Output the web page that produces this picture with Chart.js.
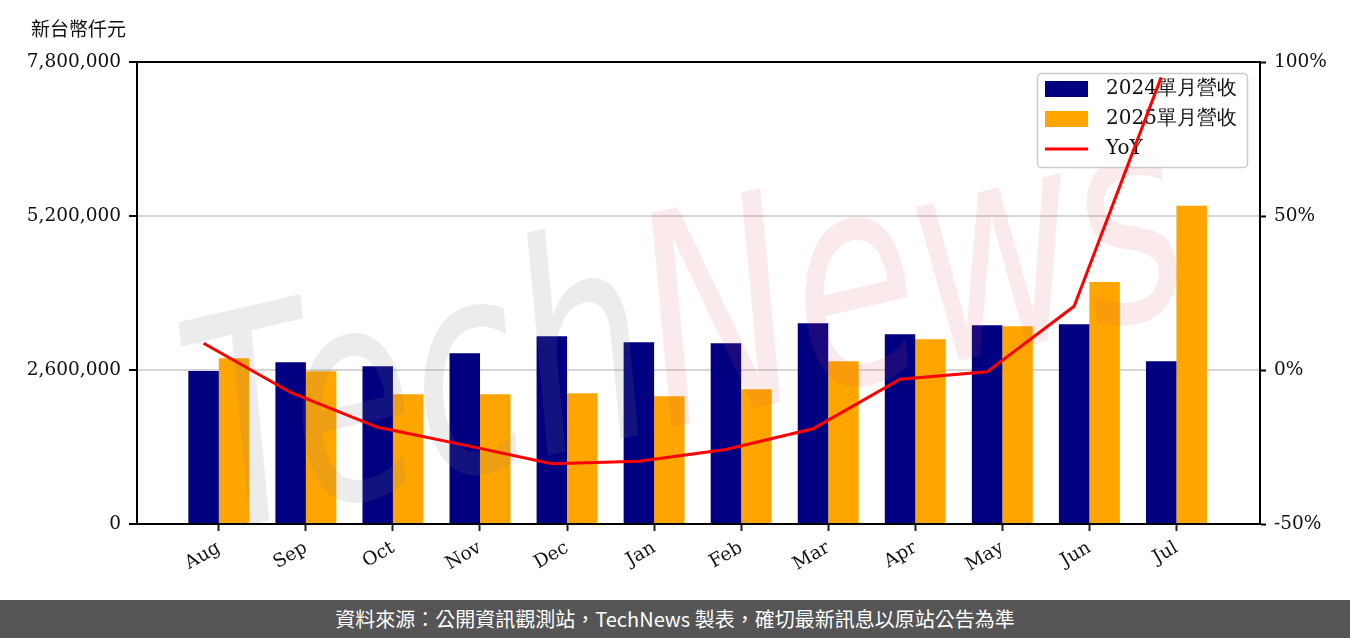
<!DOCTYPE html>
<html>
<head>
<meta charset="utf-8">
<script src="https://cdn.jsdelivr.net/npm/chart.js@4.4.1/dist/chart.umd.min.js"></script>
<style>
html, body { margin: 0; padding: 0; background: #fff; }
#wrap { position: relative; width: 1350px; height: 638px; overflow: hidden; }
#chart { position: absolute; left: 0; top: 0; }
#unit { position: absolute; left: 31px; top: 14px; font: 19px "Noto Sans CJK TC"; color: #111; }
#footer { position: absolute; left: 0; top: 600px; width: 1350px; height: 38px; background: #555; color: #fff;
  font: 20px "Noto Sans CJK TC"; text-align: center; line-height: 38px; }
</style>
</head>
<body>
<div id="wrap">
  <canvas id="chart" width="1350" height="600"></canvas>
  <div id="unit">新台幣仟元</div>
  <div id="footer">資料來源：公開資訊觀測站，TechNews 製表，確切最新訊息以原站公告為準</div>
</div>
<script>
const months = ['Aug', 'Sep', 'Oct', 'Nov', 'Dec', 'Jan', 'Feb', 'Mar', 'Apr', 'May', 'Jun', 'Jul'];
const revenue2024 = [2583000, 2730000, 2663000, 2883000, 3170000, 3069000, 3052000, 3390000, 3204000, 3357000, 3374000, 2747000];
const revenue2025 = [2798000, 2578000, 2189000, 2189000, 2206000, 2155000, 2273000, 2747000, 3120000, 3340000, 4085000, 5371000];
const yoyPercent = [8.7, -7.3, -18.6, -24.4, -30.4, -29.6, -25.8, -19.1, -3.0, -0.6, 20.7, 95.0];
const revenueTicks = [0, 2600000, 5200000, 7800000];
const yoyTicks = [-50, 0, 50, 100];

// the YoY line sits on the centre of the 2024 bar (half of a 0.35 bar width)
const yoyShift = 0.175;
const serif = '"DejaVu Serif"';

const frame = {
  id: 'frame',
  beforeDatasetDraw(chart, args) {
    if (args.index !== 2) return;
    const ctx = chart.ctx;
    const a = chart.chartArea;

    // watermark, over the bars but under the line
    ctx.save();
    ctx.beginPath();
    ctx.rect(a.left - 10, a.top, a.right - a.left + 10, a.bottom - a.top);
    ctx.clip();
    ctx.translate(690, 345);
    ctx.rotate(-13 * Math.PI / 180);
    ctx.scale(0.9, 1.3);
    ctx.font = 'italic 225px "DejaVu Sans"';
    ctx.textBaseline = 'middle';
    const w1 = ctx.measureText('Tech').width;
    const w2 = ctx.measureText('News').width;
    const x0 = -(w1 + w2) / 2;
    ctx.fillStyle = 'rgba(128,128,128,0.15)';
    ctx.fillText('Tech', x0, 0);
    ctx.fillStyle = 'rgba(215,80,90,0.12)';
    ctx.fillText('News', x0 + w1, 0);
    ctx.restore();

    // legend box
    ctx.save();
    ctx.fillStyle = 'rgba(255,255,255,0.8)';
    ctx.strokeStyle = '#cccccc';
    ctx.lineWidth = 1.5;
    ctx.beginPath();
    ctx.roundRect(1037.5, 73.5, 210, 94, 4);
    ctx.fill();
    ctx.stroke();
    const entries = [
      { label: '2024單月營收', color: '#000080', kind: 'box' },
      { label: '2025單月營收', color: '#FFA500', kind: 'box' },
      { label: 'YoY', color: '#FF0000', kind: 'line' }
    ];
    ctx.font = '20px ' + serif;
    ctx.textBaseline = 'middle';
    entries.forEach((e, i) => {
      const cy = 89 + i * 30;
      if (e.kind === 'box') {
        ctx.fillStyle = e.color;
        ctx.fillRect(1045, cy - 8, 43, 16);
      } else {
        ctx.strokeStyle = e.color;
        ctx.lineWidth = 3;
        ctx.beginPath();
        ctx.moveTo(1045, cy);
        ctx.lineTo(1088, cy);
        ctx.stroke();
      }
      ctx.fillStyle = '#111';
      ctx.fillText(e.label, 1106, cy);
    });
    ctx.restore();
  },
  afterDraw(chart) {
    const ctx = chart.ctx;
    const a = chart.chartArea;
    ctx.save();
    ctx.strokeStyle = '#000';
    ctx.lineWidth = 2;
    ctx.strokeRect(a.left, a.top, a.right - a.left, a.bottom - a.top);
    ctx.restore();
  }
};

new Chart(document.getElementById('chart'), {
  data: {
    datasets: [
      {
        type: 'bar',
        label: '2024單月營收',
        data: revenue2024.map((v, i) => ({ x: i, y: v })),
        backgroundColor: '#000080',
        categoryPercentage: 0.7,
        barPercentage: 1.0,
        yAxisID: 'y',
        order: 1
      },
      {
        type: 'bar',
        label: '2025單月營收',
        data: revenue2025.map((v, i) => ({ x: i, y: v })),
        backgroundColor: '#FFA500',
        categoryPercentage: 0.7,
        barPercentage: 1.0,
        yAxisID: 'y',
        order: 1
      },
      {
        type: 'line',
        label: 'YoY',
        data: yoyPercent.map((v, i) => ({ x: i - yoyShift, y: v })),
        borderColor: '#FF0000',
        borderWidth: 3,
        pointRadius: 0,
        tension: 0,
        yAxisID: 'y1',
        order: 0
      }
    ]
  },
  options: {
    responsive: false,
    animation: false,
    devicePixelRatio: 1,
    layout: { padding: { top: 62, left: 0, right: 0, bottom: 0 } },
    plugins: { legend: { display: false }, tooltip: { enabled: false } },
    scales: {
      x: {
        type: 'linear',
        min: -0.94,
        max: 11.96,
        offset: false,
        afterBuildTicks: (s) => { s.ticks = months.map((m, i) => ({ value: i })); },
        afterFit: (s) => { s.height = 76; },
        grid: { display: true, offset: false, drawOnChartArea: false, tickLength: 7, tickColor: '#222', tickWidth: 2 },
        border: { color: '#000', width: 2 },
        ticks: {
          autoSkip: false,
          minRotation: 30,
          maxRotation: 30,
          padding: 6,
          color: '#111',
          font: { family: serif, size: 18.5 },
          callback: (v) => months[v]
        }
      },
      y: {
        position: 'left',
        min: 0,
        max: 7800000,
        afterBuildTicks: (s) => { s.ticks = revenueTicks.map((v) => ({ value: v })); },
        afterFit: (s) => { s.width = 137; },
        grid: {
          color: (c) => (c.tick && (c.tick.value === 0 || c.tick.value === 7800000)) ? 'rgba(0,0,0,0)' : '#d6d6d6',
          lineWidth: 2,
          tickColor: '#000',
          tickWidth: 2,
          tickLength: 8
        },
        border: { color: '#000', width: 2 },
        ticks: {
          padding: 8,
          color: '#111',
          font: { family: serif, size: 18.5 },
          callback: (v) => v.toLocaleString('en-US')
        }
      },
      y1: {
        position: 'right',
        min: -50,
        max: 100,
        afterBuildTicks: (s) => { s.ticks = yoyTicks.map((v) => ({ value: v })); },
        afterFit: (s) => { s.width = 90; },
        grid: { drawOnChartArea: false, tickColor: '#000', tickWidth: 2, tickLength: 6 },
        border: { color: '#000', width: 2 },
        ticks: {
          padding: 8,
          color: '#111',
          font: { family: serif, size: 18.5 },
          callback: (v) => v + '%'
        }
      }
    }
  },
  plugins: [frame]
});
</script>
</body>
</html>
